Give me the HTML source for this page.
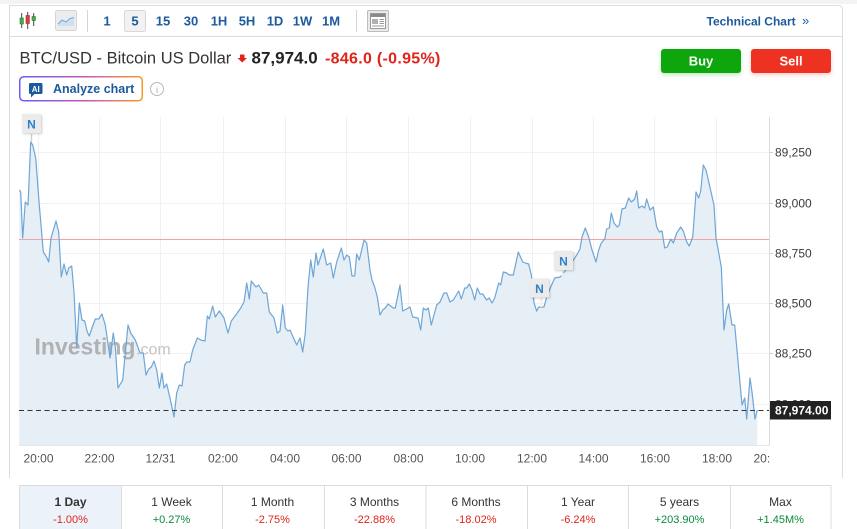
<!DOCTYPE html>
<html>
<head>
<meta charset="utf-8">
<style>
  html,body{margin:0;padding:0;background:#fff;}
  body{width:857px;height:529px;overflow:hidden;position:relative;font-family:"Liberation Sans",Arial,sans-serif;}
  svg{position:absolute;left:0;top:0;}
</style>
</head>
<body>
<svg width="857" height="529" viewBox="0 0 857 529" xmlns="http://www.w3.org/2000/svg" font-family="Liberation Sans, Arial, sans-serif">
  <defs>
    <linearGradient id="aig" x1="0" y1="0" x2="1" y2="0">
      <stop offset="0" stop-color="#6b5cf5"/>
      <stop offset="0.55" stop-color="#c95ab2"/>
      <stop offset="1" stop-color="#f59a2a"/>
    </linearGradient>
    <filter id="gsh" x="-20%" y="-30%" width="140%" height="180%">
      <feDropShadow dx="0" dy="2" stdDeviation="2" flood-color="#0ea60e" flood-opacity="0.25"/>
    </filter>
    <filter id="rsh" x="-20%" y="-30%" width="140%" height="180%">
      <feDropShadow dx="0" dy="2" stdDeviation="2" flood-color="#ee3124" flood-opacity="0.25"/>
    </filter>
    <filter id="nsh" x="-30%" y="-30%" width="160%" height="160%">
      <feDropShadow dx="1" dy="1" stdDeviation="1" flood-color="#000" flood-opacity="0.2"/>
    </filter>
    <clipPath id="plotclip"><rect x="19" y="110" width="750" height="335"/></clipPath>
  </defs>

  <!-- top strip -->
  <rect x="0" y="0" width="857" height="4" fill="#f3f3f3"/>

  <!-- card border -->
  <path d="M9.5,478 L9.5,5.5 L838,5.5 Q842.5,5.5 842.5,10 L842.5,478" fill="none" stroke="#dcdcdc" stroke-width="1"/>
  <line x1="9.5" y1="36.5" x2="842.5" y2="36.5" stroke="#dcdcdc" stroke-width="1"/>

  <!-- toolbar icons -->
  <g>
    <line x1="21.7" y1="13" x2="21.7" y2="28" stroke="#444" stroke-width="1"/>
    <rect x="20" y="18" width="3.4" height="6" fill="#3fae49" stroke="#2d7a33" stroke-width="0.6"/>
    <line x1="27.7" y1="12" x2="27.7" y2="29" stroke="#444" stroke-width="1"/>
    <rect x="26" y="15.5" width="3.4" height="8" fill="#e23b3b" stroke="#a52a2a" stroke-width="0.6"/>
    <line x1="33.7" y1="13" x2="33.7" y2="26" stroke="#444" stroke-width="1"/>
    <rect x="32" y="16.5" width="3.4" height="4" fill="#3fae49" stroke="#2d7a33" stroke-width="0.6"/>
  </g>
  <rect x="55.5" y="10.5" width="21" height="20" rx="2" fill="#ececec" stroke="#d5d5d5"/>
  <path d="M58,26 L58,24 L62,20 L66,22 L70,18.5 L74,17.5 L74,26 Z" fill="#cfe0f2"/>
  <path d="M58,24 L62,20 L66,22 L70,18.5 L74,17.5" fill="none" stroke="#7aa7d6" stroke-width="1"/>
  <line x1="87.5" y1="10" x2="87.5" y2="32" stroke="#d5d5d5"/>

  <rect x="124.5" y="10.5" width="21" height="21" rx="2" fill="#f2f2f2" stroke="#d8d8d8"/>
  <g font-size="13" font-weight="bold" fill="#1b5a9c" text-anchor="middle">
    <text x="107" y="25.5">1</text>
    <text x="135" y="25.5">5</text>
    <text x="163" y="25.5">15</text>
    <text x="191" y="25.5">30</text>
    <text x="219" y="25.5">1H</text>
    <text x="247" y="25.5">5H</text>
    <text x="275" y="25.5">1D</text>
    <text x="302.5" y="25.5">1W</text>
    <text x="331" y="25.5">1M</text>
  </g>
  <line x1="356.5" y1="10" x2="356.5" y2="32" stroke="#d5d5d5"/>
  <rect x="367.5" y="10.5" width="21" height="21" rx="1" fill="#e9e9e9" stroke="#bdbdbd"/>
  <rect x="370.5" y="13.5" width="15" height="15" fill="#fff" stroke="#9a9a9a"/>
  <rect x="371" y="14" width="14" height="3" fill="#8a8a8a"/>
  <rect x="372" y="19" width="6" height="5" fill="#b0b0b0"/>
  <line x1="379.5" y1="19.5" x2="384" y2="19.5" stroke="#999"/>
  <line x1="379.5" y1="21.5" x2="384" y2="21.5" stroke="#999"/>
  <line x1="379.5" y1="23.5" x2="384" y2="23.5" stroke="#999"/>
  <line x1="372" y1="26" x2="384" y2="26" stroke="#999"/>

  <text x="706.5" y="25.5" font-size="12" font-weight="bold" fill="#1b5a9c">Technical Chart</text>
  <text x="802" y="25" font-size="13" fill="#1b5a9c">»</text>

  <!-- title row -->
  <text x="19.5" y="63.3" font-size="16.5" fill="#333">BTC/USD - Bitcoin US Dollar</text>
  <path d="M240,54.5 L244.5,54.5 L244.5,58 L247,58 L242.25,62.5 L237.5,58 L240,58 Z" fill="#e0241c"/>
  <text x="251.5" y="63.3" font-size="17" font-weight="bold" fill="#222">87,974.0</text>
  <text x="325" y="63.3" font-size="16" font-weight="bold" fill="#e0241c" letter-spacing="0.3">-846.0 (-0.95%)</text>

  <!-- buy/sell -->
  <rect x="661" y="49" width="80" height="24" rx="3" fill="#0ea60e" filter="url(#gsh)"/>
  <text x="701" y="65.3" font-size="13" font-weight="bold" fill="#fff" text-anchor="middle">Buy</text>
  <rect x="751" y="49" width="80" height="24" rx="3" fill="#ee3124" filter="url(#rsh)"/>
  <text x="791" y="65.3" font-size="13" font-weight="bold" fill="#fff" text-anchor="middle">Sell</text>

  <!-- analyze chart -->
  <rect x="19.75" y="76.75" width="122.5" height="24" rx="4" fill="#fff" stroke="url(#aig)" stroke-width="1.5"/>
  <rect x="29" y="83" width="13.5" height="11" rx="1.5" fill="#1b5a9c"/>
  <path d="M31,93.5 L31,97.5 L35,93.5 Z" fill="#1b5a9c"/>
  <text x="35.7" y="91.8" font-size="8" font-weight="bold" fill="#fff" text-anchor="middle">AI</text>
  <text x="53" y="93.2" font-size="12.5" font-weight="bold" fill="#1b5a9c">Analyze chart</text>
  <circle cx="157" cy="89" r="6.5" fill="none" stroke="#b8b8b8" stroke-width="1"/>
  <text x="157" y="93" font-size="9" fill="#aaa" text-anchor="middle">i</text>

  <!-- grid -->
  <g stroke="#f1f1f1" stroke-width="1">
    <line x1="19" y1="152.5" x2="769" y2="152.5"/>
    <line x1="19" y1="203.5" x2="769" y2="203.5"/>
    <line x1="19" y1="253.5" x2="769" y2="253.5"/>
    <line x1="19" y1="303.5" x2="769" y2="303.5"/>
    <line x1="19" y1="353.5" x2="769" y2="353.5"/>
    <line x1="19" y1="404.5" x2="769" y2="404.5"/>
    <line x1="38.5" y1="117" x2="38.5" y2="445"/>
    <line x1="99.5" y1="117" x2="99.5" y2="445"/>
    <line x1="160.5" y1="117" x2="160.5" y2="445"/>
    <line x1="223.5" y1="117" x2="223.5" y2="445"/>
    <line x1="285.5" y1="117" x2="285.5" y2="445"/>
    <line x1="346.5" y1="117" x2="346.5" y2="445"/>
    <line x1="408.5" y1="117" x2="408.5" y2="445"/>
    <line x1="470.5" y1="117" x2="470.5" y2="445"/>
    <line x1="532.5" y1="117" x2="532.5" y2="445"/>
    <line x1="593.5" y1="117" x2="593.5" y2="445"/>
    <line x1="654.5" y1="117" x2="654.5" y2="445"/>
    <line x1="716.5" y1="117" x2="716.5" y2="445"/>
  </g>

  <!-- series -->
  <g clip-path="url(#plotclip)">
    <path fill="#e3ecf5" fill-opacity="0.9" d="M19.3,445 L19.3,190 20.7,192 22.7,238 25.3,202 28,205 30.7,142 32.7,145 35.7,158 39.3,205 43.3,252 46,256 48.7,262 51,238 56,221 58.7,232 61.3,277 64,264 66.7,275 68.7,268 71.7,266 74,292 76.7,348 79.3,303 82,320 84.7,321 87.3,332 89.3,336 92,328 95.3,319 98.7,319 102,314 105.3,325 110,358 113.3,333 115.3,347 118,388 122.7,380 128,325 130.7,333 135.3,340 140,353 143.3,353 146,375 148.7,369 151.3,367 154,361 156.7,370 159.3,388 162,373 164,388 166.7,384 170,398 174,417 176.7,393 179.3,385 182,386 184.7,365 186.7,362 190,362 192.7,350 197.3,338 200.7,340 205,341 207.3,316 209.3,319 212.7,306 215.3,317 219.3,311 224,318 228,333 231.3,321 237.3,313 240.7,308 244,302 246.7,283 249.3,299 251.3,281 256,287 258.7,285 263.3,293 266.7,293 269.3,312 274,318 277.3,333 280,331 282.7,305 285.3,328 288,331 290,330 296.7,345 300,338 302.7,352 305.3,333 308,287 310.7,260 313.3,277 316,253 318,265 323.3,249 326.7,265 330.7,263 333.3,278 336.7,262 341.3,248 344,260 346.7,255 349.3,257 352,276 354.7,276 356.7,254 359.3,260 364,240 366.7,243 370,270 372,280 374.7,287 377.3,297 380,315 382.7,310 385.3,308 388,304 390.7,306 393.3,308 395.3,308 400,285 402.7,311 406.7,309 410,307 412.7,317 418,318 420.7,330 423.3,308 426,310 428.3,308 431.3,325 436.7,305 440,302 444,293 446.7,293 450,302 453.3,300 458.7,291 461.3,299 464.7,288 466.7,288 469.3,284 472,290 474.7,300 477.3,288 480,294 482.7,294 486.7,300 489.3,298 492,303 494.7,298 498.7,283 500.7,285 503.3,272 506.7,273 509.3,275 513.3,275 518.3,252 522.7,262 525.3,263 528.7,264 531.3,275 534,303 536.7,311 538.7,307 544,307 546.7,297 550.7,287 554.7,278 560,277 562,275 573.3,260 576.7,255 580,249 582,237 585.3,228 588.7,237 592,250 596,262 598.7,250 601.3,243 604.7,239 606.7,229 609.3,228 611.3,213 614,223 617.3,227 619.3,225 622,209 625.3,208 628.7,198 631.3,202 634.7,199 636.7,191 638.7,208 642,206 644.7,208 646.7,199 650,210 653.3,207 656.7,227 659.3,232 662,231 664.7,248 667.3,247 670.7,239 673.3,243 676.7,233 680.7,227 683.3,231 686.7,242 689.3,246 692.7,237 693.3,230 696,192 698.7,198 700.7,191 703.3,165 706,170 714,205 716,238 721.3,267 724,330 726.7,310 728.7,304 732,325 734.7,325 742,405 744.7,398 746.7,419 750,378 752,392 755,419 757.3,410 L757.3,445 Z"/>

    <!-- watermark -->
    <text x="34.5" y="354.5" font-size="23" font-weight="bold" fill="#9c9c9c" fill-opacity="0.75">Investing</text>
    <text x="136" y="354.5" font-size="16" fill="#c4c4c4">.com</text>

    <line x1="19" y1="239.5" x2="769" y2="239.5" stroke="#f3a3a3" stroke-width="1"/>

    <polyline fill="none" stroke="#6ea6d6" stroke-width="1.2" stroke-linejoin="round" points="19.3,190 20.7,192 22.7,238 25.3,202 28,205 30.7,142 32.7,145 35.7,158 39.3,205 43.3,252 46,256 48.7,262 51,238 56,221 58.7,232 61.3,277 64,264 66.7,275 68.7,268 71.7,266 74,292 76.7,348 79.3,303 82,320 84.7,321 87.3,332 89.3,336 92,328 95.3,319 98.7,319 102,314 105.3,325 110,358 113.3,333 115.3,347 118,388 122.7,380 128,325 130.7,333 135.3,340 140,353 143.3,353 146,375 148.7,369 151.3,367 154,361 156.7,370 159.3,388 162,373 164,388 166.7,384 170,398 174,417 176.7,393 179.3,385 182,386 184.7,365 186.7,362 190,362 192.7,350 197.3,338 200.7,340 205,341 207.3,316 209.3,319 212.7,306 215.3,317 219.3,311 224,318 228,333 231.3,321 237.3,313 240.7,308 244,302 246.7,283 249.3,299 251.3,281 256,287 258.7,285 263.3,293 266.7,293 269.3,312 274,318 277.3,333 280,331 282.7,305 285.3,328 288,331 290,330 296.7,345 300,338 302.7,352 305.3,333 308,287 310.7,260 313.3,277 316,253 318,265 323.3,249 326.7,265 330.7,263 333.3,278 336.7,262 341.3,248 344,260 346.7,255 349.3,257 352,276 354.7,276 356.7,254 359.3,260 364,240 366.7,243 370,270 372,280 374.7,287 377.3,297 380,315 382.7,310 385.3,308 388,304 390.7,306 393.3,308 395.3,308 400,285 402.7,311 406.7,309 410,307 412.7,317 418,318 420.7,330 423.3,308 426,310 428.3,308 431.3,325 436.7,305 440,302 444,293 446.7,293 450,302 453.3,300 458.7,291 461.3,299 464.7,288 466.7,288 469.3,284 472,290 474.7,300 477.3,288 480,294 482.7,294 486.7,300 489.3,298 492,303 494.7,298 498.7,283 500.7,285 503.3,272 506.7,273 509.3,275 513.3,275 518.3,252 522.7,262 525.3,263 528.7,264 531.3,275 534,303 536.7,311 538.7,307 544,307 546.7,297 550.7,287 554.7,278 560,277 562,275 573.3,260 576.7,255 580,249 582,237 585.3,228 588.7,237 592,250 596,262 598.7,250 601.3,243 604.7,239 606.7,229 609.3,228 611.3,213 614,223 617.3,227 619.3,225 622,209 625.3,208 628.7,198 631.3,202 634.7,199 636.7,191 638.7,208 642,206 644.7,208 646.7,199 650,210 653.3,207 656.7,227 659.3,232 662,231 664.7,248 667.3,247 670.7,239 673.3,243 676.7,233 680.7,227 683.3,231 686.7,242 689.3,246 692.7,237 693.3,230 696,192 698.7,198 700.7,191 703.3,165 706,170 714,205 716,238 721.3,267 724,330 726.7,310 728.7,304 732,325 734.7,325 742,405 744.7,398 746.7,419 750,378 752,392 755,419 757.3,410"/>

    <line x1="19" y1="410.5" x2="769" y2="410.5" stroke="#333" stroke-width="1" stroke-dasharray="5,3.5"/>
  </g>

  <!-- axes -->
  <line x1="769.5" y1="117" x2="769.5" y2="446" stroke="#dcdcdc"/>
  <line x1="19" y1="445.5" x2="770" y2="445.5" stroke="#e2e8ef"/>
  <g stroke="#cfcfcf">
    <line x1="769.5" y1="152.5" x2="773" y2="152.5"/>
    <line x1="769.5" y1="203.5" x2="773" y2="203.5"/>
    <line x1="769.5" y1="253.5" x2="773" y2="253.5"/>
    <line x1="769.5" y1="303.5" x2="773" y2="303.5"/>
    <line x1="769.5" y1="353.5" x2="773" y2="353.5"/>
  </g>

  <!-- N markers -->
  <line x1="31.5" y1="134" x2="31.5" y2="142" stroke="#d0d0d0" stroke-width="1.5"/>
  <rect x="22" y="114" width="19" height="19" fill="#ebebeb" filter="url(#nsh)"/>
  <text x="31.5" y="128.5" font-size="12" font-weight="bold" fill="#2f80c8" text-anchor="middle">N</text>
  <line x1="541.5" y1="297" x2="541.5" y2="307" stroke="#f0f0f0" stroke-width="2"/>
  <rect x="530" y="278.5" width="19" height="19" fill="#ebebeb" filter="url(#nsh)"/>
  <text x="539.5" y="293" font-size="12" font-weight="bold" fill="#2f80c8" text-anchor="middle">N</text>
  <line x1="562.5" y1="269" x2="562.5" y2="276" stroke="#f0f0f0" stroke-width="2"/>
  <rect x="554" y="251" width="19" height="19" fill="#ebebeb" filter="url(#nsh)"/>
  <text x="563.5" y="265.5" font-size="12" font-weight="bold" fill="#2f80c8" text-anchor="middle">N</text>

  <!-- y labels -->
  <g font-size="12" fill="#3a3a3a">
    <text x="775" y="156.5">89,250</text>
    <text x="775" y="207.5">89,000</text>
    <text x="775" y="257.5">88,750</text>
    <text x="775" y="307.5">88,500</text>
    <text x="775" y="357.5">88,250</text>
    <text x="775" y="408.5">88,000</text>
  </g>
  <rect x="770" y="401" width="61" height="18.5" fill="#222"/>
  <text x="775" y="414.5" font-size="12" font-weight="bold" fill="#fff">87,974.00</text>

  <!-- x labels -->
  <g font-size="12" fill="#555" text-anchor="middle">
    <text x="38.5" y="462.5">20:00</text>
    <text x="99.5" y="462.5">22:00</text>
    <text x="160.5" y="462.5">12/31</text>
    <text x="223" y="462.5">02:00</text>
    <text x="285" y="462.5">04:00</text>
    <text x="346.5" y="462.5">06:00</text>
    <text x="408.5" y="462.5">08:00</text>
    <text x="470" y="462.5">10:00</text>
    <text x="532" y="462.5">12:00</text>
    <text x="593.5" y="462.5">14:00</text>
    <text x="655" y="462.5">16:00</text>
    <text x="717" y="462.5">18:00</text>
  </g>
  <text x="753.5" y="462.5" font-size="12" fill="#555">20:</text>

  <!-- period tabs -->
  <rect x="19.5" y="485.5" width="101.5" height="50" fill="#ebf2fa"/>
  <rect x="19.5" y="485.5" width="811.5" height="50" fill="none" stroke="#dcdcdc"/>
  <g stroke="#dcdcdc">
    <line x1="121.5" y1="485.5" x2="121.5" y2="529"/>
    <line x1="222.5" y1="485.5" x2="222.5" y2="529"/>
    <line x1="324.5" y1="485.5" x2="324.5" y2="529"/>
    <line x1="426" y1="485.5" x2="426" y2="529"/>
    <line x1="527.5" y1="485.5" x2="527.5" y2="529"/>
    <line x1="628.5" y1="485.5" x2="628.5" y2="529"/>
    <line x1="730.5" y1="485.5" x2="730.5" y2="529"/>
  </g>
  <g font-size="12" fill="#333" text-anchor="middle">
    <text x="70.5" y="506" font-weight="bold">1 Day</text>
    <text x="171.5" y="506">1 Week</text>
    <text x="272.5" y="506">1 Month</text>
    <text x="374.5" y="506">3 Months</text>
    <text x="476" y="506">6 Months</text>
    <text x="578" y="506">1 Year</text>
    <text x="679.5" y="506">5 years</text>
    <text x="780.5" y="506">Max</text>
  </g>
  <g font-size="11" text-anchor="middle">
    <text x="70.5" y="523" fill="#e0241c">-1.00%</text>
    <text x="171.5" y="523" fill="#0a8a3a">+0.27%</text>
    <text x="272.5" y="523" fill="#e0241c">-2.75%</text>
    <text x="374.5" y="523" fill="#e0241c">-22.88%</text>
    <text x="476" y="523" fill="#e0241c">-18.02%</text>
    <text x="578" y="523" fill="#e0241c">-6.24%</text>
    <text x="679.5" y="523" fill="#0a8a3a">+203.90%</text>
    <text x="780.5" y="523" fill="#0a8a3a">+1.45M%</text>
  </g>
</svg>
</body>
</html>
